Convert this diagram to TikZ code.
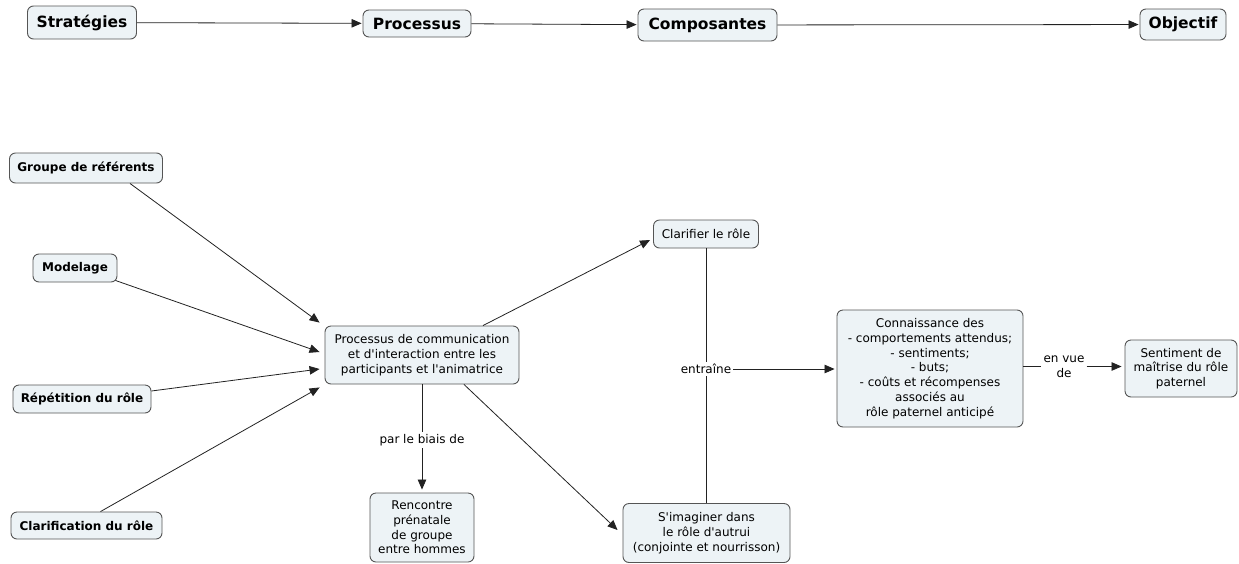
\documentclass[tikz,border=0pt]{standalone}
\usepackage{fontspec}
\setmainfont{DejaVu Sans}
\usetikzlibrary{arrows.meta}
\definecolor{boxfill}{HTML}{EDF3F6}
\definecolor{boxline}{HTML}{555555}
\definecolor{conline}{HTML}{222222}
\tikzset{
  concept/.style={draw=boxline, line width=0.9pt, fill=boxfill, rounded corners=6pt,
    align=center, inner sep=0pt, font=\fontsize{12}{14.8}\selectfont},
  topbox/.style={concept, font=\bfseries\fontsize{15.5}{18}\selectfont},
  leftbox/.style={concept, font=\bfseries\fontsize{12}{14.8}\selectfont},
  linklabel/.style={fill=white, inner sep=2pt, align=center, font=\fontsize{12}{14.8}\selectfont},
  con/.style={draw=conline, line width=0.8pt},
  arr/.style={con, -{Triangle[length=10pt,width=8.5pt]}},
}
\begin{document}
\begin{tikzpicture}[x=1pt,y=-1pt]
\useasboundingbox (0,0) rectangle (1239,563);

% top row
\node[topbox, minimum width=109pt, minimum height=33pt] (s) at (82,22.5) {Stratégies};
\node[topbox, minimum width=108pt, minimum height=27pt] (p) at (417,23.5) {Processus};
\node[topbox, minimum width=139pt, minimum height=32pt] (co) at (707.5,25) {Composantes};
\node[topbox, minimum width=86pt, minimum height=31pt] (o) at (1183,24.5) {Objectif};
\draw[arr, shorten >=1pt] (s) -- (p);
\draw[arr, shorten >=1pt] (p) -- (co);
\draw[arr, shorten >=1pt] (co) -- (o);

% left strategies
\node[leftbox, minimum width=153pt, minimum height=30pt] (g) at (86,168) {Groupe de référents};
\node[leftbox, minimum width=84pt, minimum height=28pt] (m) at (75,268) {Modelage};
\node[leftbox, minimum width=138pt, minimum height=28pt] (r) at (82,399) {Répétition du rôle};
\node[leftbox, minimum width=151pt, minimum height=27pt] (c) at (86.5,525.5) {Clarification du rôle};

% process
\node[concept, minimum width=194pt, minimum height=58pt] (pc) at (422,355)
  {Processus de communication\\et d\textquotesingle interaction entre les\\participants et l\textquotesingle animatrice};

% components
\node[concept, minimum width=105pt, minimum height=28pt] (cl) at (706,234) {Clarifier le rôle};
\node[concept, minimum width=167pt, minimum height=59pt] (si) at (706.5,533)
  {S\textquotesingle imaginer dans\\le rôle d\textquotesingle autrui\\(conjointe et nourrisson)};
\node[concept, minimum width=104pt, minimum height=69pt] (rc) at (422,527.5)
  {Rencontre\\prénatale\\de groupe\\entre hommes};
\node[concept, minimum width=186pt, minimum height=117pt] (cn) at (930,368.5)
  {Connaissance des\\- comportements attendus;\\- sentiments;\\- buts;\\- coûts et récompenses\\associés au\\rôle paternel anticipé};
\node[concept, minimum width=112pt, minimum height=57pt] (se) at (1181,368.5)
  {Sentiment de\\maîtrise du rôle\\paternel};

% link labels
\node[linklabel] (biais) at (422,440) {par le biais de};
\node[linklabel] (ent) at (706,369) {entraîne};
\node[linklabel] (env) at (1064,366.5) {en vue\\de};

% connectors from strategies
\draw[arr] ([xshift=44pt]g.south) -- ([xshift=-5pt,yshift=3pt]pc.north west);
\draw[arr] ([xshift=-2pt,yshift=2pt]m.south east) -- ([xshift=-5pt,yshift=3pt]pc.west);
\draw[arr] ([yshift=8pt]r.east) -- ([xshift=-5pt,yshift=-14pt]pc.west);
\draw[arr] ([xshift=14pt]c.north) -- ([xshift=-5pt,yshift=-3pt]pc.south west);

% connectors from process
\draw[arr] ([xshift=61pt]pc.north) -- ([xshift=-3pt,yshift=-6pt]cl.west);
\draw[arr] ([xshift=42pt]pc.south) -- ([xshift=-5pt,yshift=3pt]si.west);
\draw[con] (pc.south) -- (biais);
\draw[arr, shorten >=3pt] (biais) -- (rc.north);

% entraîne
\draw[con] (ent |- cl.south) -- (ent);
\draw[con] (ent |- si.north) -- (ent);
\draw[arr, shorten >=2pt] (ent) -- (ent -| cn.west);

% en vue de
\draw[con] (env -| cn.east) -- (env);
\draw[arr, shorten >=3pt] (env) -- (env -| se.west);
\end{tikzpicture}
\end{document}
